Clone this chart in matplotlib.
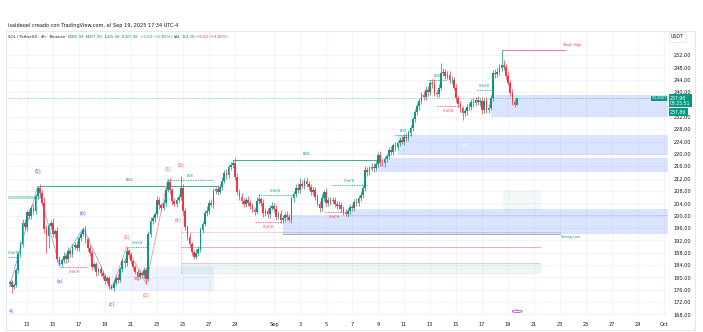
import matplotlib
matplotlib.use("Agg")
import matplotlib.pyplot as plt
from matplotlib.patches import Rectangle, Circle
import numpy as np

UP = "#089981"
DN = "#f23645"
BLUE = "#2962ff"
TXT = "#131722"

# SOL/USDT 4h candles, Aug 11 16:00 -> Sep 19 16:00 (x in days, Aug 1 = day 1)
t_start = 11 + 16 / 24
first_open = 178.0
closes = [
    178.4, 176.9, 177.6, 182.3, 187.5, 190.8,
    197.6, 196.2, 201.1, 199.8, 202.6, 201.4,
    206.3, 208.9, 207.2, 204.1, 195.6, 193.4,
    196.8, 197.5, 194.2, 195.0, 186.1, 184.4,
    185.6, 186.9, 185.8, 188.4, 187.6, 189.9,
    190.4, 189.5, 192.8, 194.1, 195.4, 192.3,
    189.6, 187.9, 183.5, 184.2, 181.6, 182.6,
    181.4, 180.6, 178.9, 179.7, 177.1, 176.6,
    178.2, 179.9, 179.3, 182.7, 185.2, 184.6,
    188.4, 187.2, 185.3, 183.4, 181.9, 180.2,
    181.4, 180.7, 182.5, 179.6, 194.1, 198.3,
    199.1, 200.4, 205.2, 203.3, 202.6, 204.1,
    208.3, 210.9, 208.2, 204.6, 203.9, 205.1,
    206.2, 208.9, 201.4, 196.3, 193.2, 190.8,
    188.1, 186.7, 187.9, 189.3, 195.2, 197.4,
    200.8, 201.6, 204.1, 203.5, 207.9, 208.6,
    207.8, 209.4, 211.3, 213.9, 213.2, 215.7,
    216.4, 217.1, 212.6, 207.8, 206.1, 204.6,
    203.8, 205.2, 204.1, 203.2, 201.9, 201.3,
    204.9, 205.3, 204.2, 200.8, 201.6, 200.4,
    202.5, 203.1, 202.2, 199.7, 200.6, 198.5,
    199.2, 200.3, 199.5, 198.7, 205.6, 206.9,
    209.1, 208.4, 210.2, 209.6, 211.1, 210.3,
    209.2, 207.7, 208.3, 206.1, 203.9, 202.4,
    205.8, 207.6, 204.1, 205.2, 204.6, 205.0,
    203.8, 203.1, 203.6, 202.1, 201.2, 200.4,
    201.6, 202.7, 202.4, 204.5, 204.1, 205.6,
    206.8, 208.9, 214.7, 214.1, 215.2, 215.9,
    215.3, 216.8, 219.7, 217.1, 216.9, 218.4,
    219.2, 221.2, 220.6, 222.8, 222.1, 223.4,
    224.6, 223.9, 225.6, 225.1, 226.8, 228.4,
    231.2, 233.6, 235.4, 237.2, 239.1, 238.4,
    240.8, 240.1, 243.0, 242.6, 239.7, 239.4,
    241.5, 246.3, 246.6, 245.3, 245.6, 243.8,
    243.9, 241.5, 238.1, 236.2, 234.8, 233.3,
    233.9, 235.3, 235.1, 236.9, 236.4, 237.5,
    236.8, 237.2, 234.1, 237.1, 234.3, 235.0,
    238.1, 246.2, 245.8, 246.6, 247.9, 248.8,
    248.1, 245.2, 243.1, 239.8, 236.9, 235.98,
    237.98,
]
wick_up = [
    0.6, 0.9, 0.7, 0.8, 1.1, 0.9,
    1.2, 1.4, 0.8, 1.0, 0.9, 1.3,
    0.7, 0.7, 1.5, 1.2, 2.1, 1.4,
    0.9, 1.1, 1.6, 0.8, 1.2, 0.7,
    0.8, 1.2, 0.9, 1.4, 0.7, 1.0,
    1.1, 1.3, 0.6, 0.9, 0.6, 1.2,
    0.8, 1.0, 1.1, 0.7, 0.9, 0.8,
    1.0, 0.7, 0.6, 0.9, 0.8, 0.7,
    0.9, 0.8, 1.1, 0.7, 1.0, 1.2,
    1.5, 0.9, 1.0, 0.8, 0.7, 0.9,
    1.1, 0.8, 1.0, 0.9, 0.8, 1.3,
    1.2, 0.9, 1.1, 1.0, 0.8, 1.4,
    1.0, 0.9, 1.2, 0.8, 1.1, 1.0,
    0.9, 4.0, 1.3, 1.0, 0.8, 1.1,
    0.7, 0.9, 1.2, 0.8, 1.0, 0.9,
    1.1, 1.4, 0.9, 1.2, 1.0, 0.8,
    1.3, 0.9, 1.1, 0.8, 1.2, 0.9,
    1.0, 1.0, 1.5, 1.1, 0.9, 1.2,
    1.1, 0.8, 1.3, 0.9, 1.0, 0.8,
    1.2, 1.6, 0.9, 1.1, 0.8, 1.0,
    0.9, 1.2, 1.0, 1.4, 0.8, 1.1,
    1.0, 0.9, 1.3, 1.0, 0.9, 1.2,
    1.1, 1.5, 2.0, 1.2, 1.0, 1.3,
    1.0, 1.2, 0.9, 1.1, 1.0, 0.8,
    1.2, 0.7, 1.5, 1.0, 0.9, 1.1,
    1.0, 0.8, 1.1, 0.9, 1.0, 0.8,
    0.9, 1.1, 1.0, 0.8, 1.2, 1.0,
    1.1, 1.0, 1.4, 1.2, 1.0, 1.1,
    1.3, 1.0, 0.9, 1.2, 1.1, 1.0,
    0.9, 1.0, 1.2, 0.8, 1.1, 0.9,
    1.0, 1.2, 0.9, 1.1, 0.9, 1.0,
    0.8, 1.0, 1.1, 0.9, 1.0, 1.2,
    1.1, 1.3, 0.9, 1.2, 1.5, 1.1,
    1.0, 3.1, 1.3, 1.0, 1.2, 1.1,
    1.2, 1.0, 1.1, 0.9, 1.0, 0.8,
    1.1, 0.9, 1.2, 1.0, 1.3, 0.9,
    1.4, 1.0, 1.1, 0.9, 1.2, 1.0,
    1.1, 1.0, 1.3, 1.1, 1.2, 4.8,
    1.5, 1.0, 1.2, 0.9, 1.1, 0.8,
    0.01,
]
wick_dn = [
    0.9, 1.8, 0.8, 0.7, 1.0, 0.9,
    1.1, 0.8, 1.2, 0.9, 1.0, 0.8,
    1.0, 0.9, 0.8, 1.1, 1.3, 5.5,
    4.0, 1.2, 1.0, 1.5, 1.1, 0.6,
    0.9, 1.0, 1.2, 0.8, 1.1, 0.9,
    0.8, 1.1, 0.9, 1.0, 0.8, 1.2,
    1.0, 0.9, 1.2, 0.8, 1.1, 0.9,
    0.8, 1.0, 0.9, 0.8, 1.0, 0.5,
    0.9, 0.8, 1.0, 0.9, 0.8, 1.1,
    0.9, 1.0, 0.8, 1.1, 0.9, 1.0,
    0.8, 1.0, 0.9, 1.6, 0.7, 1.0,
    0.9, 1.1, 0.8, 1.2, 1.0, 0.9,
    1.0, 0.8, 1.1, 1.2, 0.9, 1.0,
    0.8, 1.0, 1.2, 1.0, 1.1, 0.9,
    1.0, 0.8, 0.9, 1.1, 1.0, 0.8,
    0.9, 1.0, 1.1, 0.8, 1.0, 0.9,
    1.1, 0.9, 1.0, 0.8, 1.3, 0.9,
    1.0, 0.9, 1.2, 1.0, 1.1, 0.9,
    1.0, 0.9, 1.1, 1.0, 0.8, 1.2,
    0.9, 1.0, 1.2, 1.1, 0.9, 1.0,
    1.0, 0.8, 1.1, 1.0, 0.9, 0.8,
    1.0, 1.1, 0.9, 0.8, 1.0, 1.1,
    0.9, 1.0, 1.1, 0.8, 1.0, 0.9,
    1.0, 1.1, 0.9, 1.0, 0.8, 1.1,
    0.8, 1.0, 0.9, 1.1, 1.0, 0.8,
    1.0, 0.9, 0.8, 1.0, 0.9, 0.5,
    0.9, 1.0, 0.8, 0.9, 1.1, 1.0,
    0.8, 1.0, 0.9, 1.2, 1.0, 0.9,
    1.2, 0.9, 1.0, 1.1, 0.8, 1.0,
    0.9, 1.0, 0.8, 1.0, 1.1, 0.9,
    1.0, 0.8, 0.9, 1.0, 0.8, 0.9,
    1.0, 0.9, 1.0, 1.1, 0.9, 1.0,
    0.9, 1.2, 1.0, 1.1, 1.0, 0.9,
    1.0, 0.9, 1.1, 1.0, 1.2, 1.0,
    1.1, 0.9, 1.2, 1.0, 1.1, 2.3,
    1.0, 1.2, 0.9, 1.0, 1.1, 0.9,
    1.0, 1.2, 1.3, 1.0, 1.1, 1.0,
    0.9, 1.0, 1.1, 1.0, 0.9, 1.0,
    1.0, 1.1, 0.9, 1.2, 1.0, 0.8,
    0.0,
]

# price axis and time axis
price_ticks = [168, 172, 176, 180, 184, 188, 192, 196, 200, 204, 208, 212,
               216, 220, 224, 228, 232, 240, 244, 248, 252]
date_ticks = [13, 15, 17, 19, 21, 23, 25, 27, 29, 32, 34, 36, 38, 40, 42,
              44, 46, 48, 50, 52, 54, 56, 58, 60, 62]
date_labels = ["13", "15", "17", "19", "21", "23", "25", "27", "29", "Sep",
               "3", "5", "7", "9", "11", "13", "15", "17", "19", "21", "23",
               "25", "27", "29", "Oct"]

# solid BOS lines: start day, end day, level, label day
bos_start = [13.92, 28.85]
bos_end = [27.7, 39.9]
bos_level = [209.6, 218.1]
bos_label_x = [20.9, 34.5]

# dashed structure breaks: start, end, level, label, colour
brk_start = [15.54, 20.77, 23.85, 30.77, 30.5, 36.46, 35.9, 41.3, 43.85, 44.5, 47.6, 11.54]
brk_end = [17.7, 22.2, 27.3, 33.46, 32.6, 39.15, 37.46, 42.5, 45.3, 46.3, 48.8, 12.3]
brk_level = [183.4, 189.9, 211.6, 206.7, 198.0, 209.9, 201.2, 226.1, 243.9, 235.5, 240.7, 186.6]
brk_text = ["CHoCH", "CHoCH", "BOS", "CHoCH", "CHoCH", "CHoCH", "CHoCH",
            "BOS", "BOS", "CHoCH", "CHoCH", "CHoCH"]
brk_up = [False, True, True, True, False, True, False, True, True, False, True, True]

# blue zones: start, end, low, high
zone_start = [32.69, 37.6, 40.0, 41.5, 48.7]
zone_end = [62.3, 62.3, 62.3, 62.3, 62.3]
zone_lo = [194.2, 199.8, 214.1, 219.6, 232.0]
zone_hi = [200.2, 202.3, 218.7, 226.0, 239.0]

# Elliott wave pivots (candle index, label)
blue_idx = [0, 13, 23, 34, 47]
blue_lab = ["", "(5)", "(a)", "(b)", "(c)"]
red_idx = [47, 54, 63, 73]
red_lab = ["", "(1)", "(2)", "(3)"]

closes = np.array(closes)
n = len(closes)
t = t_start + np.arange(n) / 6
opens = np.r_[first_open, closes[:-1]]
highs = np.maximum(opens, closes) + np.array(wick_up)
lows = np.minimum(opens, closes) - np.array(wick_dn)
cols = np.where(closes >= opens, UP, DN)

W, H = 703, 332
fig = plt.figure(figsize=(W / 100, H / 100), dpi=100)
fig.patch.set_facecolor("white")
ax = fig.add_axes([8 / W, 1 - 316 / H, 660 / W, 285 / H])
ax.set_xlim(11.54, 62.3)
ax.set_ylim(167.5, 259.8)

for s in ax.spines.values():
    s.set_visible(False)
ax.set_xticks(date_ticks)
ax.set_xticklabels(date_labels)
ax.set_yticks(price_ticks)
ax.set_yticklabels([f"{p:.2f}".replace(".", ",") for p in price_ticks])
ax.yaxis.tick_right()
ax.tick_params(axis="both", length=0, labelsize=3.6, labelcolor=TXT)
ax.tick_params(axis="x", pad=4.5)
ax.tick_params(axis="y", pad=4)
ax.grid(True, color="#f0f3fa", lw=0.6)
ax.set_axisbelow(True)

# zones
for s0, s1, lo, hi in zip(zone_start, zone_end, zone_lo, zone_hi):
    ax.add_patch(Rectangle((s0, lo), s1 - s0, hi - lo, facecolor=BLUE,
                           alpha=0.17, lw=0, zorder=1))
ax.text(46.7, 222.8, "[4]", color="white", fontsize=4, ha="center",
        va="center", zorder=2)
ax.plot([32.69, 54.0], [194.0, 194.0], color=UP, lw=0.5, alpha=0.8, zorder=2)
ax.text(54.1, 193.0, "Strong Low", color=UP, fontsize=2.4, va="center")

# demand block under the (c) low
ax.add_patch(Rectangle((19.54, 176.0), 7.8, 7.4, facecolor=BLUE, alpha=0.08,
                       edgecolor=BLUE, lw=0.4, zorder=1))
# levels kept from the Aug 25 swing
ax.plot([24.85, 54.0], [194.8, 194.8], color=DN, lw=0.5, alpha=0.35, zorder=1)
ax.plot([24.85, 52.46], [190.0, 190.0], color=DN, lw=0.5, alpha=0.6, zorder=1)
ax.add_patch(Rectangle((24.85, 181.4), 27.6, 3.3, facecolor=UP, alpha=0.08,
                       edgecolor=UP, lw=0.4, zorder=1))
ax.plot([24.85, 52.46], [184.7, 184.7], color=DN, lw=0.4, alpha=0.4, zorder=1)
ax.add_patch(Rectangle((49.6, 201.8), 2.9, 6.5, facecolor=UP, alpha=0.05,
                       lw=0, zorder=1))
ax.plot([24.85, 24.85], [181.4, 196.3], color=DN, lw=0.5, ls=(0, (2, 2)),
        alpha=0.5, zorder=1)
# previous level at far left
ax.plot([11.54, 13.92], [206.0, 206.0], color=UP, lw=2.2, alpha=0.3, zorder=1)

# weak high
ax.plot([49.54, 54.4], [253.6, 253.6], color=DN, lw=0.6, alpha=0.8)
ax.text(54.2, 255.2, "Weak High", color=DN, fontsize=2.4, va="center")

for s0, s1, lvl, lx in zip(bos_start, bos_end, bos_level, bos_label_x):
    ax.plot([s0, s1], [lvl, lvl], color=UP, lw=0.7, alpha=0.8, zorder=2)
    ax.text(lx, lvl + 1.6, "BOS", color=UP, fontsize=2.6, ha="center")

for s0, s1, lvl, txt, up in zip(brk_start, brk_end, brk_level, brk_text, brk_up):
    c = UP if up else DN
    ax.plot([s0, s1], [lvl, lvl], color=c, lw=0.5, ls=(0, (2, 1.5)), zorder=2)
    ty = lvl + 1.4 if up else lvl - 1.6
    ax.text((s0 + s1) / 2, ty, txt, color=c, fontsize=2.3, ha="center",
            va="center")

# wave zigzags
bx = [t[i] for i in blue_idx]
by = [lows[i] if k % 2 == 0 else highs[i] for k, i in enumerate(blue_idx)]
ax.plot(bx, by, color="#7b8cf5", lw=0.6, alpha=0.8, zorder=2)
for x, y, lab, k in zip(bx, by, blue_lab, range(len(bx))):
    if lab:
        dy = 4.6 if k % 2 == 1 else -5.0
        ax.text(x, y + dy, lab, color=BLUE, fontsize=3.4, ha="center",
                va="center")
rx = [t[i] for i in red_idx]
ry = [lows[i] if k % 2 == 0 else highs[i] for k, i in enumerate(red_idx)]
ax.plot(rx, ry, color="#f48a96", lw=0.6, alpha=0.9, zorder=2)
for x, y, lab, k in zip(rx, ry, red_lab, range(len(rx))):
    if lab:
        dy = 3.0 if k % 2 == 1 else -3.8
        ax.text(x, y + dy, lab, color=DN, fontsize=3.4, ha="center",
                va="center", alpha=0.8)
ax.text(24.85, 216.4, "(5)", color=DN, fontsize=3.4, ha="center", va="center", alpha=0.8)
ax.text(24.6, 198.3, "(4)", color=DN, fontsize=3.4, ha="center", va="center", alpha=0.8)
ax.text(11.6, 168.8, "4)", color=BLUE, fontsize=3.4, ha="left", va="center")
ax.text(21.3, 179.2, "\u2715", color=DN, fontsize=5, ha="center", va="center",
        alpha=0.8)

# candles
ax.vlines(t, lows, highs, colors=cols, lw=0.5, zorder=3)
ax.bar(t, closes - opens, bottom=opens, width=0.13, color=cols, lw=0, zorder=4)

# last price line and labels
last = closes[-1]
ax.axhline(last, color=UP, lw=0.5, ls=(0, (1, 1.5)), alpha=0.8, zorder=2)
ax.text(62.2, last, "SOL/USDT", color="white", fontsize=2.2, ha="right",
        va="center", zorder=6,
        bbox=dict(boxstyle="square,pad=0.25", fc=UP, ec="none"))
yt = ax.get_yaxis_transform()
ax.text(1.003, last - 0.8, f"{last:.2f}".replace(".", ",") + "\n03:25:51",
        transform=yt, color="white", fontsize=3.3, ha="left", va="center",
        linespacing=1.0, clip_on=False, zorder=6,
        bbox=dict(boxstyle="square,pad=0.3", fc=UP, ec="none"))
ax.text(1.003, 233.5, "237,86", transform=yt, color="white", fontsize=3.3,
        ha="left", va="center", clip_on=False, zorder=6,
        bbox=dict(boxstyle="square,pad=0.3", fc=UP, ec="none"))

# event marker on the time axis
ax.add_patch(Circle((50.7, 169.0), 0.38, transform=ax.transData,
                    facecolor="white", edgecolor="#b84fe0", lw=0.6, zorder=5))
ax.text(50.7, 169.0, "\u03df", color="#b84fe0", fontsize=3.4, ha="center",
        va="center", zorder=6)

# frame and header
fig.add_artist(Rectangle((6 / W, 1 - 330 / H), 689 / W, 299 / H,
                         transform=fig.transFigure, fill=False,
                         ec="#e0e3eb", lw=0.6))
fig.text(671 / W, 1 - 37 / H, "USDT", fontsize=3.4, color=TXT, va="center",
         bbox=dict(boxstyle="square,pad=0.5", fc="white", ec="#e0e3eb", lw=0.5))
fig.text(8 / W, 1 - 26 / H, "isaldeoel creado con TradingView.com, el Sep 19, 2025 17:34 UTC-4",
         fontsize=3.6, color=TXT, va="center")

# OHLC legend, laid out left to right from measured text widths
parts = [("SOL / TetherUS \u00b7 4h \u00b7 Binance", TXT, 2.5),
         ("O", TXT, 0.3), ("235,98", UP, 1.3),
         ("H", TXT, 0.3), ("237,99", UP, 1.3),
         ("L", TXT, 0.3), ("235,98", UP, 1.3),
         ("C", TXT, 0.3), ("237,98", UP, 1.3),
         ("+2,00 (+0,85%)", UP, 2.0),
         ("Vol.", TXT, 0.3), ("124,1K", UP, 1.3),
         ("\u22129,02 (\u22123,85%)", DN, 0)]
renderer = fig.canvas.get_renderer()
x_px = 8.0
for s, c, gap in parts:
    txt = fig.text(x_px / W, 1 - 37 / H, s, fontsize=2.8, color=c, va="center")
    x_px += txt.get_window_extent(renderer).width + gap

plt.savefig("out.png", dpi=100)
